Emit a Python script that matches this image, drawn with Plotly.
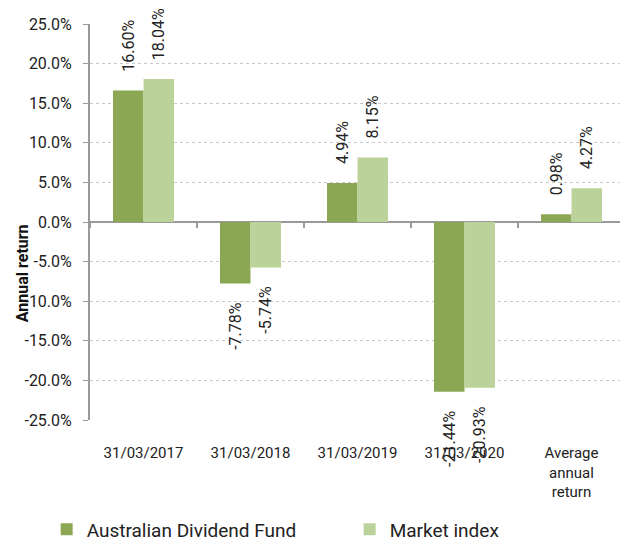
import plotly.graph_objects as go

categories = ["31/03/2017", "31/03/2018", "31/03/2019", "31/03/2020", "Average<br>annual<br>return"]
fund = [16.60, -7.78, 4.94, -21.44, 0.98]
market = [18.04, -5.74, 8.15, -20.93, 4.27]
tick_vals = [25, 20, 15, 10, 5, 0, -5, -10, -15, -20, -25]
tick_text = [f"{v:.1f}%" for v in tick_vals]

PAD = "\u00a0" * 4


def label(v):
    # label sits a little away from the bar end (padding on the bar side)
    s = f"{v:.2f}%"
    return PAD + s if v >= 0 else s + PAD


fig = go.Figure()
fig.add_bar(x=categories, y=fund, name="Australian Dividend Fund",
            marker=dict(color="#8ba753", line=dict(width=0)),
            text=[label(v) for v in fund], textposition="outside",
            textangle=-90, constraintext="none", cliponaxis=False,
            textfont=dict(size=16, color="#222"), hoverinfo="skip")
fig.add_bar(x=categories, y=market, name="Market index",
            marker=dict(color="#bcd29b", line=dict(width=0)),
            text=[label(v) for v in market], textposition="outside",
            textangle=-90, constraintext="none", cliponaxis=False,
            textfont=dict(size=16, color="#222"), hoverinfo="skip")
# invisible helper on a secondary x axis to draw category-boundary ticks on the zero line
fig.add_scatter(x=categories, y=[0] * len(categories), xaxis="x2", mode="markers",
                marker=dict(opacity=0), showlegend=False, hoverinfo="skip")

fig.update_layout(
    width=620, height=533,
    margin=dict(l=82, r=3, t=16, b=121, autoexpand=False),
    paper_bgcolor="white", plot_bgcolor="white",
    font=dict(family="Roboto", size=15, color="#222"),
    barmode="group", bargap=0.43, bargroupgap=0,
    showlegend=True,
    legend=dict(orientation="h", x=-0.081, xanchor="left", y=-0.276, yanchor="middle",
                font=dict(size=19, color="#222"), entrywidth=258, entrywidthmode="pixels",
                itemclick=False, itemdoubleclick=False, bgcolor="rgba(0,0,0,0)"),
    xaxis=dict(showline=False, ticks="", showgrid=False, tickfont=dict(size=15, color="#222"),
               ticklabelstandoff=22, automargin=False),
    xaxis2=dict(overlaying="x", anchor="free", position=0.5, side="bottom",
                type="category", range=[-0.5, 4.5], showticklabels=False,
                ticks="outside", tickson="boundaries", ticklen=5, tickcolor="#9a9a9a",
                tickwidth=1.5, showline=False, showgrid=False, zeroline=False),
    annotations=[dict(text="<b>Annual return</b>", xref="paper", yref="paper",
                      x=-0.127, y=0.371, xanchor="center", yanchor="middle",
                      textangle=-90, showarrow=False,
                      font=dict(size=16, color="#111"))],
)
fig.update_yaxes(range=[-25, 25], tickvals=tick_vals, ticktext=tick_text,
                 showline=True, linecolor="#9a9a9a", linewidth=2,
                 ticks="outside", ticklen=5, tickcolor="#9a9a9a", tickwidth=1,
                 showgrid=True, gridcolor="#c8c8c8", griddash="dot", gridwidth=1,
                 zeroline=True, zerolinecolor="#9a9a9a", zerolinewidth=2,
                 tickfont=dict(size=16, color="#222"), ticklabelstandoff=8,
                 automargin=False)
fig.write_html("out.html")
